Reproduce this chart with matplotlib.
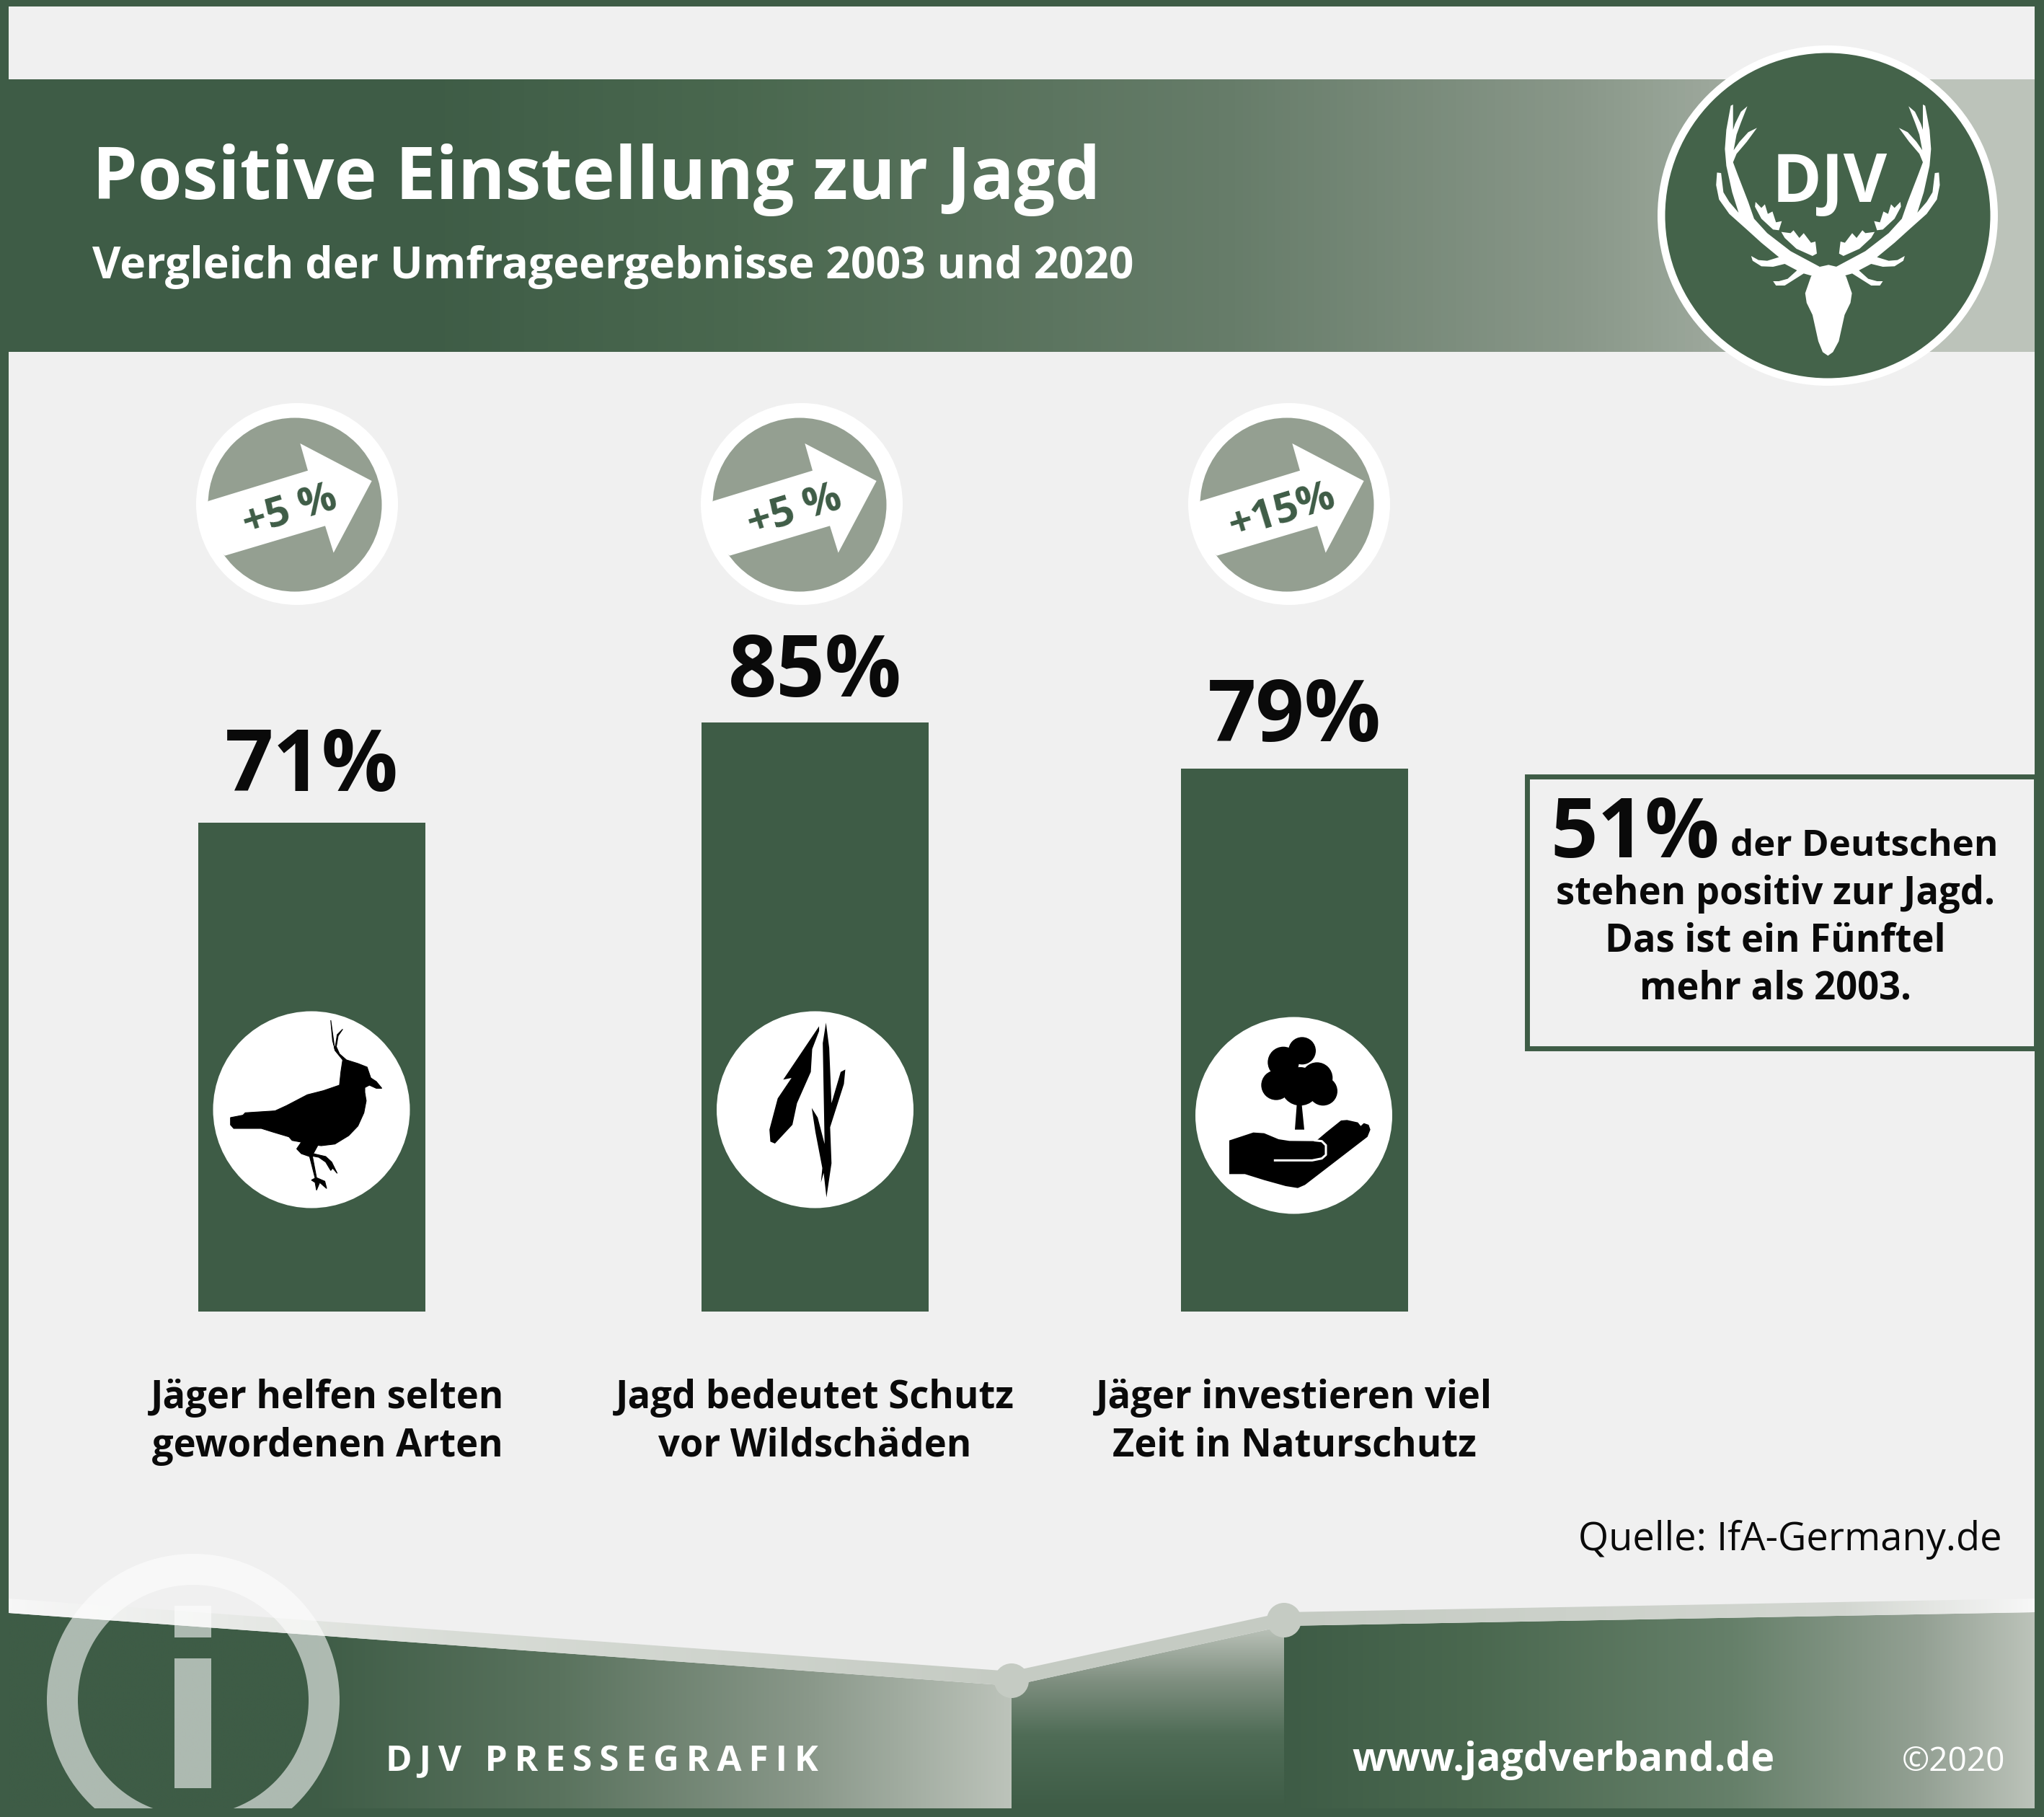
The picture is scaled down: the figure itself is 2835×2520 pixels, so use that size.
import numpy as np
import matplotlib
matplotlib.use("Agg")
import matplotlib.pyplot as plt
from matplotlib.colors import LinearSegmentedColormap
from matplotlib.patches import Circle, Polygon, Rectangle, Wedge

# chart values
categories = ["Jäger helfen selten\ngewordenen Arten",
              "Jagd bedeutet Schutz\nvor Wildschäden",
              "Jäger investieren viel\nZeit in Naturschutz"]
values_2020 = [71, 85, 79]
# bar lengths as drawn in the picture, the 85 bar runs a little long
bar_lengths = [71, 85.6, 78.9]
changes = ["+5 %", "+5 %", "+15%"]

# layout in image pixels
W, H = 2835, 2520
bar_x = [432.5, 1130, 1795]
bar_width = 315
label_x = [454, 1130, 1795]
badge_x = [412, 1112, 1788]
value_gap = [44, 41, 37]
BASE_Y = 1819
PX_PER_PCT = 9.55

DARK = "#3e5c46"
LOGO = "#44634a"
BG = "#f0f0f0"
PALE = "#bcc3ba"
STRIP = "#c5cbc3"
FONT = "Open Sans"


def px(size):
    return size * 0.72


def gradient(ax, x0, x1, y0, y1, stops, vertical=False, clip=None, zorder=1):
    cmap = LinearSegmentedColormap.from_list("g", stops)
    ramp = np.linspace(0, 1, 512)
    arr = ramp[:, None] if vertical else ramp[None, :]
    im = ax.imshow(arr, cmap=cmap, extent=(x0, x1, y1, y0), aspect="auto",
                   origin="upper", zorder=zorder, interpolation="bilinear")
    if clip is not None:
        patch = Polygon(clip, closed=True, transform=ax.transData)
        im.set_clip_path(patch)
    return im


def full_axes(fig, zorder):
    ax = fig.add_axes([0, 0, 1, 1], zorder=zorder)
    ax.set_xlim(0, W)
    ax.set_ylim(H, 0)
    ax.axis("off")
    ax.patch.set_alpha(0)
    return ax


def traced(points, sx, sy, x0, y0):
    return [(x0 + x / sx, y0 + y / sy) for x, y in points]


fig = plt.figure(figsize=(W / 100, H / 100), dpi=100, facecolor=DARK)
bg = full_axes(fig, 0)
top = full_axes(fig, 2)

# page and header
bg.add_patch(Rectangle((12, 9), 2810, 2499, fc=BG, ec="none", zorder=0))
gradient(bg, 12, 2822, 110, 488,
         [(0, DARK), (0.2, DARK), (0.36, "#4a684f"), (0.6, "#667c69"),
          (0.78, "#8a988a"), (0.95, PALE), (1, PALE)])

# footer panels
left_panel = [(12, 2237), (1403, 2338), (1403, 2508), (12, 2508)]
mid_panel = [(1403, 2338), (1781, 2255), (1781, 2508), (1403, 2508)]
right_panel = [(1781, 2255), (2822, 2236), (2822, 2508), (1781, 2508)]
gradient(bg, 12, 1403, 2200, 2508,
         [(0, DARK), (0.3, DARK), (0.55, "#5a735e"), (0.8, "#8a988a"), (1, PALE)],
         clip=left_panel)
gradient(bg, 1403, 1781, 2255, 2508,
         [(0, PALE), (0.3, "#7f8f80"), (0.6, "#4f6c56"), (1, DARK)],
         vertical=True, clip=mid_panel)
gradient(bg, 1781, 2822, 2230, 2508,
         [(0, DARK), (0.25, "#4a684f"), (0.6, "#66806a"), (0.85, "#93a093"), (1, PALE)],
         clip=right_panel)

# footer ribbon
gradient(bg, 12, 1403, 2200, 2340, [(0, "#f7f7f7"), (0.45, "#d8dcd6"), (1, STRIP)],
         clip=[(12, 2217), (1403, 2318), (1403, 2338), (12, 2237)], zorder=2)
bg.add_patch(Polygon([(1403, 2318), (1781, 2236), (1781, 2255), (1403, 2338)],
                     fc=STRIP, ec="none", zorder=2))
gradient(bg, 1781, 2822, 2200, 2260, [(0, STRIP), (0.75, "#d3d7d1"), (1, "#f7f7f7")],
         clip=[(1781, 2236), (2822, 2217), (2822, 2236), (1781, 2255)], zorder=2)
bg.add_patch(Circle((1403, 2331), 24, fc=STRIP, ec="none", zorder=3))
bg.add_patch(Circle((1781, 2247), 24, fc=STRIP, ec="none", zorder=3))

# info sign, see-through white
ring = Wedge((268, 2358), 203, 0, 360, width=43, fc="white", ec="none", alpha=0.58, zorder=4)
bg.add_patch(ring)
ring.set_clip_path(Rectangle((0, 0), W, 2508, transform=bg.transData))
bg.add_patch(Rectangle((242, 2227), 51, 44, fc="white", ec="none", alpha=0.58, zorder=4))
bg.add_patch(Rectangle((242, 2300), 51, 180, fc="white", ec="none", alpha=0.58, zorder=4))

# bars, the y axis is in percent
ax = fig.add_axes([0, 1 - BASE_Y / H, 1, 100 * PX_PER_PCT / H], zorder=1)
ax.set_xlim(0, W)
ax.set_ylim(0, 100)
ax.axis("off")
ax.patch.set_alpha(0)
ax.bar(bar_x, bar_lengths, width=bar_width, color=DARK)
for x, v, gap in zip(bar_x, values_2020, value_gap):
    ax.annotate(f"{v}%", (x, v), xytext=(0, px(gap)), textcoords="offset points",
                ha="center", va="baseline", fontsize=px(118), fontweight="bold",
                family=FONT, color="#0a0a0a")

for x, text in zip(label_x, categories):
    first, second = text.split("\n")
    top.text(x, 1953, first, ha="center", va="baseline", fontsize=px(52.5),
             fontweight="bold", family=FONT, color="#0a0a0a")
    top.text(x, 2020, second, ha="center", va="baseline", fontsize=px(52.5),
             fontweight="bold", family=FONT, color="#0a0a0a")

# change badges
arrow = [(145, 465), (560, 338), (528, 225), (826, 381), (667, 680), (632, 568), (215, 692),
         (130, 620), (120, 520)]
for x, text in zip(badge_x, changes):
    top.add_patch(Circle((x, 699), 140, fc="white", ec="none", zorder=2))
    top.add_patch(Circle((x - 3, 700), 120.5, fc="#949f91", ec="none", zorder=3))
    top.add_patch(Polygon(traced(arrow, 3, 3, x - 515 / 3, 699 - 477 / 3),
                          fc="white", ec="none", zorder=4))
    top.text(x - 10, 710, text, ha="center", va="center", rotation=17,
             rotation_mode="anchor", fontsize=px(58), fontweight="bold",
             family=FONT, color=DARK, zorder=5)

# icons inside the bars
for x, y in [(432, 1539), (1130.5, 1539), (1794.5, 1547)]:
    top.add_patch(Circle((x, y), 136.5, fc="white", ec="none", zorder=2))

bird = [(296, 105), (300, 190), (305, 225), (308, 190), (310, 165), (322, 142), (312, 170),
        (308, 215), (315, 245), (330, 270), (355, 285), (375, 300), (383, 345), (395, 360),
        (407, 388), (395, 388), (380, 375), (370, 385), (370, 405), (373, 440), (368, 490),
        (355, 545), (335, 585), (305, 620), (275, 627), (268, 625), (258, 660), (285, 672),
        (298, 695), (310, 742), (300, 720), (296, 730), (285, 695), (270, 675), (256, 670),
        (265, 760), (283, 775), (287, 805), (272, 780), (265, 812), (262, 780), (254, 770),
        (262, 762), (250, 672), (232, 660), (222, 640), (232, 612), (212, 605), (205, 590),
        (170, 570), (145, 555), (85, 555), (78, 540), (78, 510), (105, 500), (110, 490),
        (175, 482), (200, 460), (245, 415), (280, 398), (315, 375), (318, 320), (322, 270),
        (305, 230)]
top.add_patch(Polygon(traced(bird, 1.568, 3, 270, 1380), fc="black", ec="black", lw=0.8, zorder=3))

leaf_a = [(1358, 130), (1280, 352), (1298, 345), (1268, 430), (1250, 560), (1252, 610),
          (1262, 618), (1300, 540), (1310, 450), (1340, 320), (1343, 225), (1358, 150)]
leaf_b = [(1373, 115), (1380, 220), (1385, 450), (1405, 320), (1415, 310), (1412, 370),
          (1382, 550), (1385, 700), (1374, 842), (1368, 740), (1362, 780), (1365, 720),
          (1350, 570), (1342, 470), (1355, 510), (1370, 620), (1366, 200)]
top.add_patch(Polygon(traced(leaf_a, 1.568, 3, 270, 1380), fc="black", ec="none", zorder=3))
top.add_patch(Polygon(traced(leaf_b, 1.568, 3, 270, 1380), fc="black", ec="none", zorder=3))

for cx, cy, r in [(558, 232, 57), (480, 280, 65), (450, 375, 62), (620, 345, 65),
                  (645, 400, 60), (550, 380, 80)]:
    top.add_patch(Circle((1620 + cx / 3, 1380 + cy / 3), r / 3, fc="black", ec="none", zorder=3))
trunk = [(537, 440), (555, 440), (567, 560), (528, 560)]
hand = [(255, 605), (355, 572), (400, 575), (460, 600), (505, 607), (615, 608), (660, 570),
        (720, 522), (745, 520), (790, 530), (802, 545), (815, 533), (835, 540), (842, 560),
        (830, 590), (570, 790), (540, 803), (490, 795), (400, 770), (320, 745), (255, 745)]
thumb = [(445, 688), (600, 688), (640, 680), (657, 665), (657, 625), (640, 608), (612, 605)]
top.add_patch(Polygon(traced(trunk, 3, 3, 1620, 1380), fc="black", ec="none", zorder=3))
top.add_patch(Polygon(traced(hand, 3, 3, 1620, 1380), fc="black", ec="none", zorder=3))
thumb_xy = np.array(traced(thumb, 3, 3, 1620, 1380))
top.plot(thumb_xy[:, 0], thumb_xy[:, 1], color="white", lw=2.2, zorder=4)

# logo
top.add_patch(Circle((2535, 299), 236, fc="white", ec="none", zorder=2))
top.add_patch(Circle((2535, 299), 225.5, fc=LOGO, ec="none", zorder=3))
antler = [(800, 990), (700, 925), (620, 850), (575, 790), (555, 720), (520, 610), (503, 555),
          (515, 520), (550, 470), (585, 412), (555, 430), (525, 470), (505, 505), (515, 440),
          (530, 390), (552, 322), (530, 345), (510, 395), (503, 420), (503, 315), (495, 320),
          (480, 420), (475, 500), (480, 570), (500, 680), (522, 765), (490, 720), (470, 680),
          (462, 600), (448, 598), (445, 650), (455, 710), (490, 770), (550, 835), (600, 890),
          (660, 950), (620, 965), (590, 962), (565, 945), (570, 965), (600, 988), (640, 990),
          (680, 978), (722, 1005), (690, 1040), (660, 1050), (640, 1050), (650, 1068),
          (680, 1068), (745, 1018), (780, 1030)]
oak_a = [(580, 720), (600, 745), (612, 730), (622, 770), (638, 760), (650, 805), (670, 800),
         (660, 838), (640, 835), (600, 790), (578, 740)]
oak_b = [(668, 845), (700, 850), (710, 838), (730, 870), (745, 850), (770, 890), (785, 885),
         (790, 935), (775, 945), (720, 915), (680, 870)]
head = [(800, 990), (830, 982), (858, 990), (890, 1030), (910, 1100), (905, 1140), (885, 1190),
        (865, 1300), (845, 1345), (828, 1360), (810, 1345), (795, 1300), (775, 1190),
        (755, 1140), (750, 1100), (770, 1030)]
for shape in (antler, oak_a, oak_b):
    mirrored = [(1656 - x, y) for x, y in shape]
    top.add_patch(Polygon(traced(shape, 2.469, 3, 2200, 40), fc="white", ec="none", zorder=4))
    top.add_patch(Polygon(traced(mirrored, 2.469, 3, 2200, 40), fc="white", ec="none", zorder=4))
top.add_patch(Polygon(traced(head, 2.469, 3, 2200, 40), fc="white", ec="none", zorder=4))
top.text(2538, 280, "DJV", ha="center", va="baseline", fontsize=px(93), fontweight="bold",
         family=FONT, color="white", zorder=5)

# headings
top.text(128, 276, "Positive Einstellung zur Jagd", fontsize=px(100), fontweight="bold",
         family=FONT, color="white", va="baseline")
top.text(128, 386, "Vergleich der Umfrageergebnisse 2003 und 2020", fontsize=px(60.7),
         fontweight="bold", family=FONT, color="white", va="baseline")

# call-out box
top.add_patch(Rectangle((2118, 1077), 706, 377, fc=BG, ec=DARK, lw=5, zorder=1))
top.text(2150, 1189, "51%", fontsize=px(115), fontweight="bold", family=FONT,
         color="#0a0a0a", va="baseline")
top.text(2400, 1187, "der Deutschen", fontsize=px(51), fontweight="bold", family=FONT,
         color="#0a0a0a", va="baseline")
for text, y, x in [("stehen positiv zur Jagd.", 1254, 2462),
                   ("Das ist ein Fünftel", 1320, 2462),
                   ("mehr als 2003.", 1386, 2462)]:
    top.text(x, y, text, ha="center", va="baseline", fontsize=px(52.5), fontweight="bold",
             family=FONT, color="#0a0a0a")

# source and footer
top.text(2777, 2150, "Quelle: IfA-Germany.de", ha="right", va="baseline", fontsize=px(54.3),
         family=FONT, color="#0a0a0a")
top.text(535, 2456, "\u2009".join("DJV PRESSEGRAFIK"), va="baseline", fontsize=px(49.5),
         fontweight="bold", family=FONT, color="white")
top.text(1875, 2456, "www.jagdverband.de", va="baseline", fontsize=px(55.5),
         fontweight="bold", family=FONT, color="white")
top.text(2781, 2456, "©2020", ha="right", va="baseline", fontsize=px(46),
         family=FONT, color="white")

bg.set_xlim(0, W)
bg.set_ylim(H, 0)
top.set_xlim(0, W)
top.set_ylim(H, 0)
fig.savefig("out.png", dpi=100, facecolor=DARK)
